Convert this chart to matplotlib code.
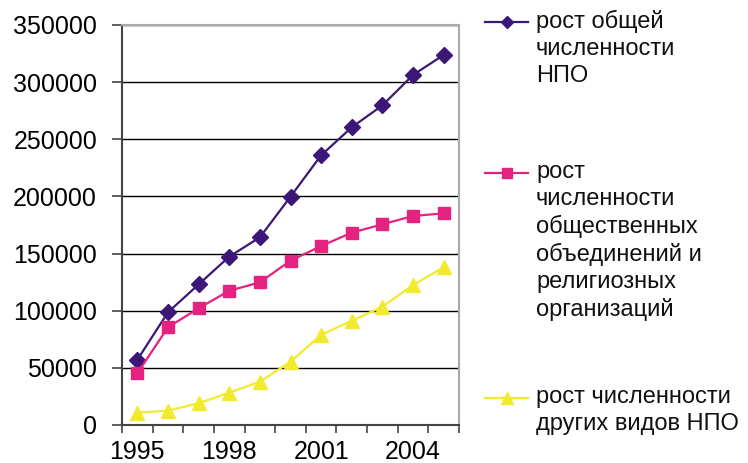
import matplotlib.pyplot as plt
from matplotlib.lines import Line2D
import numpy as np

plt.rcParams['font.family'] = ['Liberation Sans', 'DejaVu Sans']

years = [1995, 1996, 1997, 1998, 1999, 2000, 2001, 2002, 2003, 2004, 2005]
total_npo = [57000, 98600, 123000, 147300, 164200, 199800, 236000, 260500, 279700, 306300, 323800]
associations = [45200, 85500, 102100, 117500, 124800, 143800, 156600, 168300, 175600, 182900, 185200]
other_npo = [10800, 12500, 19000, 28300, 37900, 55400, 78800, 91300, 103500, 122500, 138000]

labels = [
    "рост общей\nчисленности\nНПО",
    "рост\nчисленности\nобщественных\nобъединений и\nрелигиозных\nорганизаций",
    "рост численности\nдругих видов НПО",
]
colors = ["#3b1878", "#e3237f", "#f2ea2c"]
markers = ["D", "s", "^"]
msizes = [8, 9, 10]

fig = plt.figure(figsize=(7.48, 4.63), dpi=100)
ax = fig.add_axes([122 / 748, 1 - 425 / 463, (459 - 122) / 748, 400 / 463])

x = np.arange(len(years))
for vals, c, m, ms in zip([total_npo, associations, other_npo], colors, markers, msizes):
    ax.plot(x, vals, color=c, lw=1.6, marker=m, markersize=ms, markeredgecolor=c, zorder=3)

ax.set_xlim(-0.5, len(years) - 0.5)
ax.set_ylim(0, 350000)
ax.set_yticks(np.arange(0, 350001, 50000))
ax.set_yticklabels([str(v) for v in range(0, 350001, 50000)])
ax.grid(axis='y', color='black', lw=1)
ax.set_axisbelow(True)

# category axis: ticks between categories, labels every 3rd year
ax.set_xticks(np.arange(-0.5, len(years), 1.0))
ax.set_xticklabels([])
ax.set_xticks(x[::3], minor=True)
ax.set_xticklabels([str(y) for y in years[::3]], minor=True)
ax.tick_params(axis='x', which='minor', length=0, pad=11, labelsize=18)
ax.tick_params(axis='x', which='major', length=6, width=1.2, color='#444444')
ax.tick_params(axis='y', length=7, width=1.2, color='#444444', pad=11, labelsize=18)

for s in ['left', 'bottom']:
    ax.spines[s].set_color('#444444')
    ax.spines[s].set_linewidth(1.5)
for s in ['top', 'right']:
    ax.spines[s].set_color('#aaaaaa')
    ax.spines[s].set_linewidth(1.5)

# legend, drawn by hand so the marker lines up with the first text row
W, H = 748, 463
legend_y = [22, 173, 398]
for lab, c, m, ms, ly in zip(labels, colors, markers, msizes, legend_y):
    fig.add_artist(Line2D([485 / W, 528 / W], [1 - ly / H] * 2, color=c, lw=1.6))
    fig.add_artist(Line2D([507 / W], [1 - ly / H], color=c, marker=m, markersize=ms * 0.8,
                          markeredgecolor=c))
    fig.text(536 / W, 1 - (ly - 12) / H, lab, fontsize=17, va='top', ha='left',
             linespacing=1.28, color='#111111')

fig.savefig("out.png", dpi=100)
